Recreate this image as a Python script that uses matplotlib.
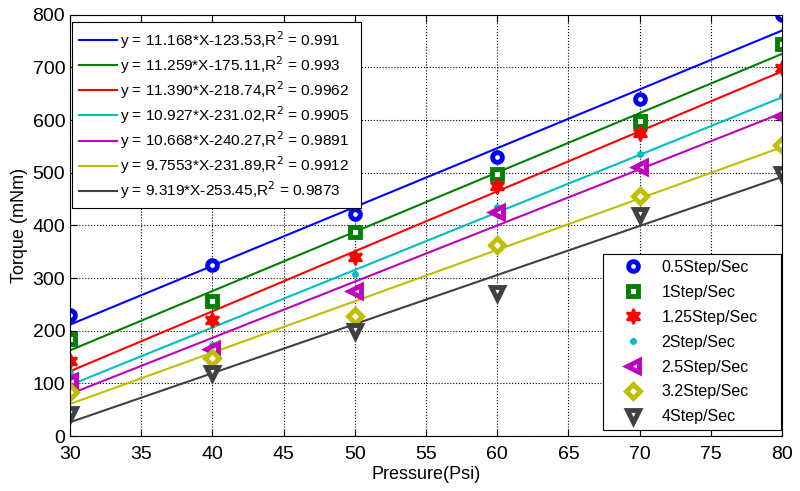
import matplotlib.pyplot as plt
import numpy as np

plt.rcParams['font.family'] = ['Liberation Sans', 'DejaVu Sans']

pressure = [30, 40, 50, 60, 70, 80]
series_names = ["0.5Step/Sec", "1Step/Sec", "1.25Step/Sec", "2Step/Sec",
                "2.5Step/Sec", "3.2Step/Sec", "4Step/Sec"]
torque_05 = [229, 325, 422, 530, 640, 800]
torque_1 = [185, 256, 388, 498, 598, 745]
torque_125 = [142, 220, 340, 474, 575, 698]
torque_2 = [120, 173, 308, 435, 535, 645]
torque_25 = [105, 165, 275, 425, 510, 608]
torque_32 = [83, 148, 228, 362, 455, 553]
torque_4 = [42, 120, 200, 272, 420, 497]
slopes = [11.168, 11.259, 11.390, 10.927, 10.668, 9.7553, 9.319]
intercepts = [-123.53, -175.11, -218.74, -231.02, -240.27, -231.89, -253.45]
fit_labels = [
    "y = 11.168*X-123.53,R$^2$ = 0.991",
    "y = 11.259*X-175.11,R$^2$ = 0.993",
    "y = 11.390*X-218.74,R$^2$ = 0.9962",
    "y = 10.927*X-231.02,R$^2$ = 0.9905",
    "y = 10.668*X-240.27,R$^2$ = 0.9891",
    "y = 9.7553*X-231.89,R$^2$ = 0.9912",
    "y = 9.319*X-253.45,R$^2$ = 0.9873",
]

torques = [torque_05, torque_1, torque_125, torque_2, torque_25, torque_32, torque_4]
colors = [(0, 0, 1), (0, 0.5, 0), (1, 0, 0), (0, 0.75, 0.75),
          (0.75, 0, 0.75), (0.75, 0.75, 0), (0.25, 0.25, 0.25)]
markers = ["o", "s", "*", ".", "<", "D", "v"]
msizes = [7, 7, 11, 5, 9, 7, 9]

fig = plt.figure(figsize=(8, 4.91), dpi=100)
ax = fig.add_axes([0.0875, 0.112, 0.89, 0.858])

x = np.array(pressure, dtype=float)
line_handles = []
for k, t in enumerate(torques):
    y_fit = slopes[k] * x + intercepts[k]
    h, = ax.plot(x, y_fit, color=colors[k], lw=1.5)
    line_handles.append(h)

marker_handles = []
for k, t in enumerate(torques):
    if markers[k] == ".":
        h, = ax.plot(x, t, linestyle="none", marker="o", ms=4,
                     color=colors[k], mec=colors[k])
    elif markers[k] == "*":
        # hexagram-like star
        h, = ax.plot(x, t, linestyle="none", marker=(6, 1, 0), ms=msizes[k],
                     color=colors[k], mec=colors[k], mew=1.5)
    else:
        h, = ax.plot(x, t, linestyle="none", marker=markers[k], ms=msizes[k],
                     mfc="white", mec=colors[k], mew=3.5)
    marker_handles.append(h)

ax.set_xlim(30, 80)
ax.set_ylim(0, 800)
ax.set_xticks(np.arange(30, 81, 5))
ax.set_yticks(np.arange(0, 801, 100))
ax.grid(True, linestyle=":", color="black", lw=0.8)
ax.tick_params(labelsize=14, direction="in", length=5, top=True, right=True)
ax.tick_params(axis="x", pad=7)
ax.set_xlabel("Pressure(Psi)", fontsize=13, labelpad=2)
ax.set_ylabel("Torque (mNm)", fontsize=13, labelpad=3)

leg1 = ax.legend(line_handles, fit_labels, loc="upper left",
                 bbox_to_anchor=(0.0028, 0.983, 0.406, 0), mode="expand",
                 fontsize=11.1, handlelength=2.5, fancybox=False,
                 edgecolor="black", framealpha=1, borderaxespad=0,
                 labelspacing=0.22, handletextpad=0.15, borderpad=0.45)
leg1.get_frame().set_linewidth(0.8)
ax.add_artist(leg1)

leg2 = ax.legend(marker_handles, series_names, loc="lower left",
                 bbox_to_anchor=(0.7486, 0.0143, 0.25, 0), mode="expand",
                 fontsize=11.5, fancybox=False, edgecolor="black",
                 framealpha=1, borderaxespad=0, labelspacing=0.62,
                 handletextpad=0.3, handlelength=3.0, borderpad=0.35)
leg2.get_frame().set_linewidth(0.8)

fig.savefig("out.png", dpi=100)
